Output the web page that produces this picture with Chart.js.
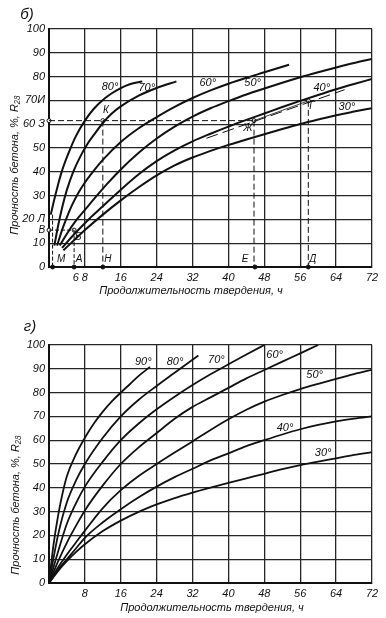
<!DOCTYPE html>
<html>
<head>
<meta charset="utf-8">
<script src="https://cdn.jsdelivr.net/npm/chart.js@4.4.1/dist/chart.umd.min.js"></script>
<style>
  body { margin: 0; background: #fff; }
  canvas { display: block; }
</style>
</head>
<body>
<canvas id="chartB" width="386" height="300"></canvas>
<canvas id="chartG" width="386" height="318"></canvas>
<script>
// ===== Прочность бетона (% R28) в зависимости от продолжительности твердения (ч) =====

// --- рис. б ---
const hoursB80 = [0.4, 1, 2, 3, 4.6, 6, 8, 10, 12, 14, 16, 18, 20.8];
const strB80   = [22, 27, 34.5, 41, 49, 55, 61.5, 66.5, 70.2, 73, 75.2, 76.8, 78];
const hoursB70 = [1.2, 2, 3, 4, 5.4, 7, 8.5, 10, 12, 14, 16, 20, 24, 28.4];
const strB70   = [9, 17, 25.5, 32.5, 40, 46.5, 51.5, 55.5, 60.5, 64.5, 67.5, 72, 75.2, 78];
const hoursB60 = [1.8, 3, 4, 5, 6.5, 8, 10, 12, 16, 20, 24, 28, 32, 36, 40, 44, 48, 53.5];
const strB60   = [9, 16, 21, 25.5, 31, 35.5, 40.5, 45, 52.5, 58.3, 63, 67.3, 71, 74.2, 77, 79.5, 81.8, 85];
const hoursB50 = [2.4, 4, 6, 8, 10, 13, 16, 20, 24, 28, 32, 36, 40, 44, 48, 52, 56, 60, 64, 68, 72];
const strB50   = [9, 14, 19.5, 24, 28.5, 35, 41, 48, 54, 59, 63.2, 66.7, 69.7, 72.5, 75, 77.4, 79.7, 81.8, 83.8, 85.7, 87.4];
const hoursB40 = [2.9, 5, 7, 9, 12, 16, 20, 24, 28, 32, 36, 40, 44, 48, 52, 56, 60, 64, 68, 72];
const strB40   = [8, 12.5, 16.5, 20.3, 25.5, 32.5, 39, 44.5, 49, 52.8, 56, 59, 61.8, 64.5, 67.2, 69.8, 72.3, 74.7, 76.9, 79];
const hoursB30 = [3.2, 6, 8, 12, 16, 20, 24, 28, 32, 36, 40, 44, 48, 52, 56, 60, 64, 68, 72];
const strB30   = [7, 12, 15.5, 22, 28, 33.5, 38.5, 42.7, 46, 48.8, 51.3, 53.6, 55.8, 58, 60.1, 62, 63.8, 65.3, 66.7];

const tempLabelsB = ['80°', '70°', '60°', '50°', '40°', '30°'];
const tempLabelHoursB = [13.6, 21.8, 35.4, 45.4, 60.8, 66.4];
const tempLabelStrB = [75.7, 75.3, 77.4, 77.4, 75.3, 67.3];

// построение (пунктирные линии), точки [ч, %]
const guideZ_Zh = [[0, 61.5], [45.7, 61.5]];
const guideK_N = [[12, 61.5], [12, 0]];
const guideZh_E = [[45.7, 61.5], [45.7, 0]];
const guideG_D = [[57.8, 69.8], [57.8, 0]];
const guideV_B = [[0, 15.5], [5.6, 15.5]];
const guideB_A = [[5.6, 15.5], [5.6, 0]];
const guideL_M = [[0.8, 22], [0.8, 0]];
const guideSlope = [[35.1, 54.1], [65.9, 74.5]];
const chordZh_G = [[45.7, 61.5], [57.8, 69.8]];

const axisDotsB = [[0.8, 0], [5.6, 0], [12, 0], [45.9, 0], [57.8, 0]];
const ringDotsB = [[12, 61.5], [45.7, 61.5], [57.8, 69.8], [5.6, 15.5], [0, 15.5], [0, 61.5]];

const lettersB = ['К', 'Ж', 'Г', 'Б', 'М', 'А', 'Н', 'Е', 'Д', 'В'];
const letterHoursB = [12.7, 44.3, 58.6, 6.5, 2.7, 6.7, 13.1, 43.7, 58.8, -1.6];
const letterStrB = [66, 58.4, 67.7, 12.5, 3.2, 3.2, 3.2, 3.2, 3.2, 15.5];

const xTickValsB = [0, 6, 8, 16, 24, 32, 40, 48, 56, 64, 72];
const xTickLabelsB = ['', '6', '8', '16', '24', '32', '40', '48', '56', '64', '72'];
const yTickLabelsB = ['0', '10', '20 Л', '30', '40', '50', '60 З', '70И', '80', '90', '100'];

// --- рис. г ---
const hoursG90 = [0, 1, 2, 3, 4, 6, 8, 10, 12, 14, 16, 18, 20, 22.5];
const strG90   = [0, 16, 28, 37.5, 45, 54, 61, 67, 72, 76.3, 80, 83.5, 87, 90.8];
const hoursG80 = [0, 2, 4, 6, 8, 12, 16, 20, 24, 28, 33.3];
const strG80   = [0, 20, 34, 43, 50, 61, 70, 77, 82.8, 88.3, 95.6];
const hoursG70 = [0, 2, 4, 6, 8, 12, 16, 20, 24, 28, 32, 36, 40, 44, 48];
const strG70   = [0, 13, 25, 33.5, 40.5, 51, 60, 67, 73, 78.3, 83.2, 87.7, 91.9, 96, 100];
const hoursG60 = [0, 2, 4, 6, 8, 12, 16, 20, 24, 28, 32, 36, 40, 44, 48, 52, 56, 60];
const strG60   = [0, 9, 17, 24, 30.5, 41, 50, 57, 63, 69, 74, 78, 82, 86, 89.5, 93, 96.5, 100];
const hoursG50 = [0, 2, 4, 6, 8, 12, 16, 20, 24, 28, 32, 36, 40, 44, 48, 52, 56, 60, 64, 68, 72];
const strG50   = [0, 6.5, 12, 17, 22, 31.5, 39, 45, 50, 54.8, 59.5, 64.3, 68.8, 72.8, 76.2, 79, 81.5, 83.7, 85.8, 87.8, 89.6];
const hoursG40 = [0, 2, 4, 6, 8, 12, 16, 20, 24, 28, 32, 36, 40, 44, 48, 52, 56, 60, 64, 68, 72];
const strG40   = [0, 5.5, 10, 14.5, 19, 25.5, 31, 36, 40.5, 44.5, 48, 51.5, 54.5, 57.5, 60, 62.4, 64.6, 66.4, 67.9, 69.1, 70];
const hoursG30 = [0, 2, 4, 6, 8, 12, 16, 20, 24, 28, 32, 36, 40, 44, 48, 52, 56, 60, 64, 68, 72];
const strG30   = [0, 5, 9.3, 13, 16.3, 21.8, 26.2, 29.9, 33, 35.7, 38, 40.1, 42.1, 44, 45.9, 47.8, 49.5, 51, 52.4, 53.8, 55];

const tempLabelsG = ['90°', '80°', '70°', '60°', '50°', '40°', '30°'];
const tempLabelHoursG = [21, 28.1, 37.3, 50.3, 59.2, 52.6, 61.1];
const tempLabelStrG = [93, 93, 93.7, 95.8, 87.4, 65, 54.5];

const xTickValsG = [0, 8, 16, 24, 32, 40, 48, 56, 64, 72];
const xTickLabelsG = ['', '8', '16', '24', '32', '40', '48', '56', '64', '72'];
const yTickLabelsG = ['0', '10', '20', '30', '40', '50', '60', '70', '80', '90', '100'];

// ===== оформление =====
const INK = '#111';
const GRID = '#262626';
const FAMILY = '"Liberation Sans", "DejaVu Sans", sans-serif';
const TITLE_X = 'Продолжительность твердения, ч';
const TITLE_Y = 'Прочность бетона, %, R₂₈';

function curve(hours, vals, width) {
    return {
        data: hours.map((h, i) => ({ x: h, y: vals[i] })),
        borderColor: INK,
        borderWidth: width,
        pointRadius: 0,
        cubicInterpolationMode: 'monotone',
        fill: false
    };
}

function guide(pts, dash, width) {
    return {
        data: pts.map(p => ({ x: p[0], y: p[1] })),
        borderColor: INK,
        borderWidth: width || 1,
        borderDash: dash,
        pointRadius: 0,
        tension: 0,
        fill: false,
        clip: 3
    };
}

function dots(pts, filled) {
    return {
        data: pts.map(p => ({ x: p[0], y: p[1] })),
        showLine: false,
        pointRadius: 2,
        pointBorderWidth: 1,
        pointBorderColor: INK,
        pointBackgroundColor: filled ? INK : '#fff',
        clip: 4
    };
}

function labelsFrom(texts, hours, vals, font) {
    return texts.map((t, i) => ({ text: t, h: hours[i], v: vals[i], font: font }));
}

const overlayPlugin = {
    id: 'overlay',
    afterDraw(chart, args, opts) {
        const { ctx, scales: { x, y } } = chart;
        ctx.save();
        ctx.fillStyle = INK;
        ctx.textAlign = 'center';
        ctx.textBaseline = 'middle';
        (opts.labels || []).forEach(l => {
            ctx.font = l.font;
            ctx.fillText(l.text, x.getPixelForValue(l.h), y.getPixelForValue(l.v));
        });
        (opts.fixed || []).forEach(t => {
            ctx.save();
            ctx.translate(t.px, t.py);
            ctx.rotate(t.rot || 0);
            ctx.font = t.font;
            ctx.fillText(t.text, 0, 0);
            ctx.restore();
        });
        ctx.restore();
    }
};

function makeOptions(cfg) {
    return {
        responsive: false,
        animation: false,
        events: [],
        layout: { padding: { top: cfg.top, right: 14, bottom: 0, left: 0 } },
        plugins: {
            legend: { display: false },
            tooltip: { enabled: false },
            overlay: { labels: cfg.labels, fixed: cfg.fixed }
        },
        scales: {
            x: {
                type: 'linear',
                min: 0,
                max: 72,
                afterBuildTicks: axis => { axis.ticks = cfg.xVals.map(v => ({ value: v })); },
                afterFit: scale => { scale.height = cfg.xHeight; },
                ticks: {
                    autoSkip: false,
                    maxRotation: 0,
                    padding: 4,
                    color: INK,
                    font: { family: FAMILY, style: 'italic', size: 11 },
                    callback: (v, i) => cfg.xLabels[i]
                },
                grid: {
                    drawTicks: false,
                    lineWidth: 1.3,
                    color: c => (c.tick && c.tick.value === 6) ? 'rgba(0,0,0,0)' : GRID
                },
                border: { color: INK, width: 2 }
            },
            y: {
                min: 0,
                max: 100,
                afterFit: scale => { scale.width = 49; },
                ticks: {
                    stepSize: 10,
                    padding: 4,
                    color: INK,
                    font: { family: FAMILY, style: 'italic', size: 11 },
                    callback: (v, i) => cfg.yLabels[i]
                },
                grid: { drawTicks: false, lineWidth: 1.3, color: GRID },
                border: { color: INK, width: 2 }
            }
        }
    };
}

const curveFont = 'italic 11px ' + FAMILY;
const letterFont = 'italic 10px ' + FAMILY;
const axisTitleFont = 'italic 11px ' + FAMILY;

new Chart(document.getElementById('chartB'), {
    type: 'line',
    data: {
        datasets: [
            curve(hoursB80, strB80, 2),
            curve(hoursB70, strB70, 2),
            curve(hoursB60, strB60, 2),
            curve(hoursB50, strB50, 2),
            curve(hoursB40, strB40, 2),
            curve(hoursB30, strB30, 2),
            guide(guideZ_Zh, [6, 3]),
            guide(guideK_N, [6, 3]),
            guide(guideZh_E, [6, 3]),
            guide(guideG_D, [6, 3]),
            guide(guideV_B, [4, 2]),
            guide(guideB_A, [4, 2]),
            guide(guideL_M, [4, 2]),
            guide(guideSlope, [12, 5]),
            guide(chordZh_G, [], 0.8),
            dots(axisDotsB, true),
            dots(ringDotsB, false)
        ]
    },
    options: makeOptions({
        top: 29,
        xHeight: 33,
        xVals: xTickValsB,
        xLabels: xTickLabelsB,
        yLabels: yTickLabelsB,
        labels: labelsFrom(tempLabelsB, tempLabelHoursB, tempLabelStrB, curveFont)
            .concat(labelsFrom(lettersB, letterHoursB, letterStrB, letterFont)),
        fixed: [
            { text: 'б)', px: 27, py: 15, font: 'italic 15px ' + FAMILY },
            { text: TITLE_X, px: 191, py: 291, font: axisTitleFont },
            { text: TITLE_Y, px: 15, py: 165, rot: -Math.PI / 2, font: axisTitleFont }
        ]
    }),
    plugins: [overlayPlugin]
});

new Chart(document.getElementById('chartG'), {
    type: 'line',
    data: {
        datasets: [
            curve(hoursG90, strG90, 1.8),
            curve(hoursG80, strG80, 1.8),
            curve(hoursG70, strG70, 1.8),
            curve(hoursG60, strG60, 1.8),
            curve(hoursG50, strG50, 1.8),
            curve(hoursG40, strG40, 1.8),
            curve(hoursG30, strG30, 1.8)
        ]
    },
    options: makeOptions({
        top: 45,
        xHeight: 35,
        xVals: xTickValsG,
        xLabels: xTickLabelsG,
        yLabels: yTickLabelsG,
        labels: labelsFrom(tempLabelsG, tempLabelHoursG, tempLabelStrG, curveFont),
        fixed: [
            { text: 'г)', px: 30, py: 27, font: 'italic 15px ' + FAMILY },
            { text: TITLE_X, px: 212, py: 308, font: axisTitleFont },
            { text: TITLE_Y, px: 16, py: 205, rot: -Math.PI / 2, font: axisTitleFont }
        ]
    }),
    plugins: [overlayPlugin]
});
</script>
</body>
</html>
